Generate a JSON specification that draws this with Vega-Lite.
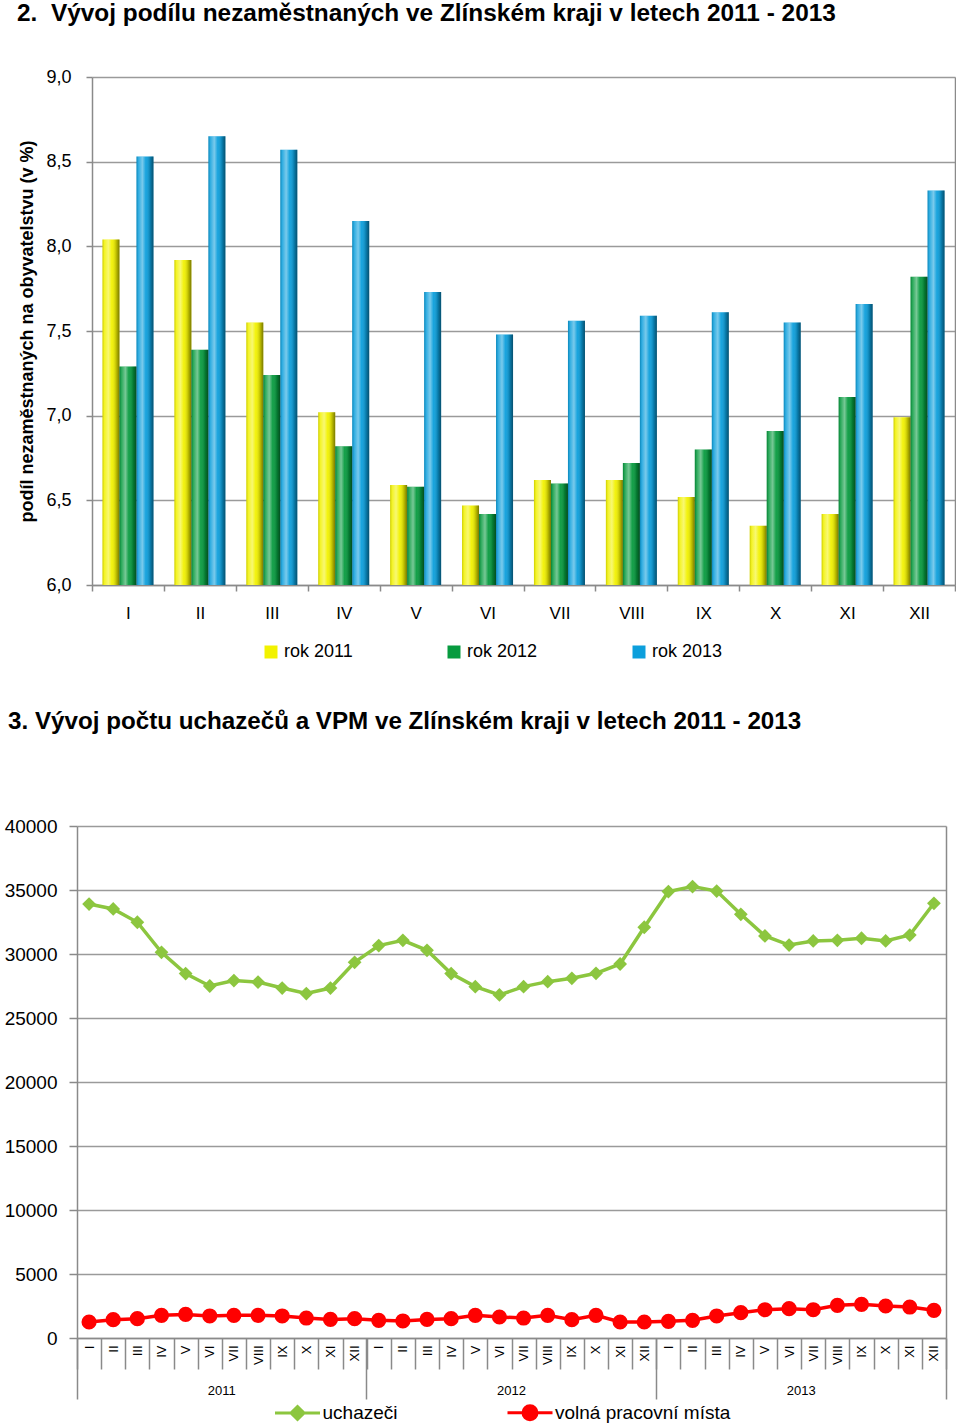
{
  "$schema": "https://vega.github.io/schema/vega-lite/v6.json",
  "padding": {"left": 4, "top": 0, "right": 0, "bottom": 0},
  "config": {
    "font": "Liberation Sans",
    "view": {"stroke": null},
    "axis": {"domainColor": "#8a8a8a", "tickColor": "#8a8a8a", "gridColor": "#9a9a9a", "labelColor": "#000000", "labelFont": "Liberation Sans", "domainWidth": 1.5, "tickWidth": 1.5, "gridWidth": 1.5}
  },
  "resolve": {"scale": {"color": "independent"}, "legend": {"color": "independent"}},
  "datasets": {
    "bars": [
      {"m": "I", "rok": "rok 2011", "v": 8.04}, {"m": "I", "rok": "rok 2012", "v": 7.29}, {"m": "I", "rok": "rok 2013", "v": 8.53},
      {"m": "II", "rok": "rok 2011", "v": 7.92}, {"m": "II", "rok": "rok 2012", "v": 7.39}, {"m": "II", "rok": "rok 2013", "v": 8.65},
      {"m": "III", "rok": "rok 2011", "v": 7.55}, {"m": "III", "rok": "rok 2012", "v": 7.24}, {"m": "III", "rok": "rok 2013", "v": 8.57},
      {"m": "IV", "rok": "rok 2011", "v": 7.02}, {"m": "IV", "rok": "rok 2012", "v": 6.82}, {"m": "IV", "rok": "rok 2013", "v": 8.15},
      {"m": "V", "rok": "rok 2011", "v": 6.59}, {"m": "V", "rok": "rok 2012", "v": 6.58}, {"m": "V", "rok": "rok 2013", "v": 7.73},
      {"m": "VI", "rok": "rok 2011", "v": 6.47}, {"m": "VI", "rok": "rok 2012", "v": 6.42}, {"m": "VI", "rok": "rok 2013", "v": 7.48},
      {"m": "VII", "rok": "rok 2011", "v": 6.62}, {"m": "VII", "rok": "rok 2012", "v": 6.60}, {"m": "VII", "rok": "rok 2013", "v": 7.56},
      {"m": "VIII", "rok": "rok 2011", "v": 6.62}, {"m": "VIII", "rok": "rok 2012", "v": 6.72}, {"m": "VIII", "rok": "rok 2013", "v": 7.59},
      {"m": "IX", "rok": "rok 2011", "v": 6.52}, {"m": "IX", "rok": "rok 2012", "v": 6.80}, {"m": "IX", "rok": "rok 2013", "v": 7.61},
      {"m": "X", "rok": "rok 2011", "v": 6.35}, {"m": "X", "rok": "rok 2012", "v": 6.91}, {"m": "X", "rok": "rok 2013", "v": 7.55},
      {"m": "XI", "rok": "rok 2011", "v": 6.42}, {"m": "XI", "rok": "rok 2012", "v": 7.11}, {"m": "XI", "rok": "rok 2013", "v": 7.66},
      {"m": "XII", "rok": "rok 2011", "v": 6.99}, {"m": "XII", "rok": "rok 2012", "v": 7.82}, {"m": "XII", "rok": "rok 2013", "v": 8.33}
    ],
    "lines": [
      {"t": "2011-I", "s": "uchazeči", "v": 33900}, {"t": "2011-II", "s": "uchazeči", "v": 33520}, {"t": "2011-III", "s": "uchazeči", "v": 32480}, {"t": "2011-IV", "s": "uchazeči", "v": 30130},
      {"t": "2011-V", "s": "uchazeči", "v": 28470}, {"t": "2011-VI", "s": "uchazeči", "v": 27500}, {"t": "2011-VII", "s": "uchazeči", "v": 27920}, {"t": "2011-VIII", "s": "uchazeči", "v": 27810},
      {"t": "2011-IX", "s": "uchazeči", "v": 27340}, {"t": "2011-X", "s": "uchazeči", "v": 26910}, {"t": "2011-XI", "s": "uchazeči", "v": 27340}, {"t": "2011-XII", "s": "uchazeči", "v": 29350},
      {"t": "2012-I", "s": "uchazeči", "v": 30660}, {"t": "2012-II", "s": "uchazeči", "v": 31070}, {"t": "2012-III", "s": "uchazeči", "v": 30290}, {"t": "2012-IV", "s": "uchazeči", "v": 28470},
      {"t": "2012-V", "s": "uchazeči", "v": 27450}, {"t": "2012-VI", "s": "uchazeči", "v": 26800}, {"t": "2012-VII", "s": "uchazeči", "v": 27450}, {"t": "2012-VIII", "s": "uchazeči", "v": 27840},
      {"t": "2012-IX", "s": "uchazeči", "v": 28100}, {"t": "2012-X", "s": "uchazeči", "v": 28490}, {"t": "2012-XI", "s": "uchazeči", "v": 29220}, {"t": "2012-XII", "s": "uchazeči", "v": 32090},
      {"t": "2013-I", "s": "uchazeči", "v": 34880}, {"t": "2013-II", "s": "uchazeči", "v": 35270}, {"t": "2013-III", "s": "uchazeči", "v": 34920}, {"t": "2013-IV", "s": "uchazeči", "v": 33100},
      {"t": "2013-V", "s": "uchazeči", "v": 31410}, {"t": "2013-VI", "s": "uchazeči", "v": 30700}, {"t": "2013-VII", "s": "uchazeči", "v": 31020}, {"t": "2013-VIII", "s": "uchazeči", "v": 31070},
      {"t": "2013-IX", "s": "uchazeči", "v": 31230}, {"t": "2013-X", "s": "uchazeči", "v": 31020}, {"t": "2013-XI", "s": "uchazeči", "v": 31480}, {"t": "2013-XII", "s": "uchazeči", "v": 33960},
      {"t": "2011-I", "s": "volná pracovní místa", "v": 1250}, {"t": "2011-II", "s": "volná pracovní místa", "v": 1430}, {"t": "2011-III", "s": "volná pracovní místa", "v": 1510}, {"t": "2011-IV", "s": "volná pracovní místa", "v": 1770},
      {"t": "2011-V", "s": "volná pracovní místa", "v": 1840}, {"t": "2011-VI", "s": "volná pracovní místa", "v": 1720}, {"t": "2011-VII", "s": "volná pracovní místa", "v": 1770}, {"t": "2011-VIII", "s": "volná pracovní místa", "v": 1770},
      {"t": "2011-IX", "s": "volná pracovní místa", "v": 1720}, {"t": "2011-X", "s": "volná pracovní místa", "v": 1560}, {"t": "2011-XI", "s": "volná pracovní místa", "v": 1450}, {"t": "2011-XII", "s": "volná pracovní místa", "v": 1510},
      {"t": "2012-I", "s": "volná pracovní místa", "v": 1380}, {"t": "2012-II", "s": "volná pracovní místa", "v": 1330}, {"t": "2012-III", "s": "volná pracovní místa", "v": 1450}, {"t": "2012-IV", "s": "volná pracovní místa", "v": 1510},
      {"t": "2012-V", "s": "volná pracovní místa", "v": 1770}, {"t": "2012-VI", "s": "volná pracovní místa", "v": 1640}, {"t": "2012-VII", "s": "volná pracovní místa", "v": 1560}, {"t": "2012-VIII", "s": "volná pracovní místa", "v": 1770},
      {"t": "2012-IX", "s": "volná pracovní místa", "v": 1430}, {"t": "2012-X", "s": "volná pracovní místa", "v": 1770}, {"t": "2012-XI", "s": "volná pracovní místa", "v": 1250}, {"t": "2012-XII", "s": "volná pracovní místa", "v": 1250},
      {"t": "2013-I", "s": "volná pracovní místa", "v": 1300}, {"t": "2013-II", "s": "volná pracovní místa", "v": 1380}, {"t": "2013-III", "s": "volná pracovní místa", "v": 1720}, {"t": "2013-IV", "s": "volná pracovní místa", "v": 1980},
      {"t": "2013-V", "s": "volná pracovní místa", "v": 2210}, {"t": "2013-VI", "s": "volná pracovní místa", "v": 2290}, {"t": "2013-VII", "s": "volná pracovní místa", "v": 2210}, {"t": "2013-VIII", "s": "volná pracovní místa", "v": 2550},
      {"t": "2013-IX", "s": "volná pracovní místa", "v": 2630}, {"t": "2013-X", "s": "volná pracovní místa", "v": 2500}, {"t": "2013-XI", "s": "volná pracovní místa", "v": 2420}, {"t": "2013-XII", "s": "volná pracovní místa", "v": 2160}
    ]
  },
  "columns": 1,
  "spacing": 48,
  "concat": [
    {
      "title": {"text": "2. \u00a0Vývoj podílu nezaměstnaných ve Zlínském kraji v letech 2011 - 2013", "anchor": "start", "frame": "group", "dx": -60, "font": "Liberation Sans Narrow, Liberation Sans", "fontSize": 24.4, "fontWeight": "bold", "color": "#000000", "offset": 42},
      "width": 878,
      "height": 508,
      "data": {"name": "bars"},
      "encoding": {
        "x": {"field": "m", "type": "nominal", "scale": {"type": "band", "domain": ["I", "II", "III", "IV", "V", "VI", "VII", "VIII", "IX", "X", "XI", "XII"], "range": [15, 878], "paddingInner": 0, "paddingOuter": 0},
          "axis": {"title": null, "orient": "bottom", "tickBand": "extent", "tickSize": 6, "labelFontSize": 17, "labelPadding": 14, "labelAngle": 0, "grid": false, "domain": true}},
        "xOffset": {"field": "rok", "type": "nominal", "scale": {"domain": ["rok 2011", "rok 2012", "rok 2013"], "paddingOuter": 0.615, "paddingInner": 0}},
        "y2": {"datum": 6}
      },
      "layer": [
        {
          "mark": {"type": "bar"},
          "encoding": {
            "y": {"field": "v", "type": "quantitative", "scale": {"domain": [6, 9], "zero": false, "nice": false},
              "axis": {"orient": "left", "title": "podíl nezaměstnaných na obyvatelstvu (v %)", "titleFontSize": 18, "titleFontWeight": "bold", "titleColor": "#000000", "titleX": -65, "titleY": 254, "titleAngle": 270, "titleAlign": "center", "titleBaseline": "middle", "offset": -15, "values": [6, 6.5, 7, 7.5, 8, 8.5, 9], "labelExpr": "replace(format(datum.value, '.1f'), '.', ',')", "labelFontSize": 18, "labelPadding": 15, "tickSize": 6, "grid": true}},
            "color": {"field": "rok", "type": "nominal", "scale": {"domain": ["rok 2011", "rok 2012", "rok 2013"], "range": ["#f2f200", "#079b3f", "#0c9fdc"]},
              "legend": {"orient": "none", "legendX": 185, "legendY": 566, "direction": "horizontal", "columns": 3, "title": null, "padding": 0, "symbolType": "square", "symbolSize": 169, "symbolStrokeWidth": 0, "labelFontSize": 18, "labelOffset": 4, "columnPadding": 92, "labelColor": "#000000"}}
          }
        },
        {
          "mark": {"type": "bar", "color": {"gradient": "linear", "x1": 0, "y1": 0, "x2": 1, "y2": 0, "stops": [
            {"offset": 0, "color": "rgba(0,0,0,0.15)"},
            {"offset": 0.12, "color": "rgba(255,255,255,0.15)"},
            {"offset": 0.35, "color": "rgba(255,255,255,0.45)"},
            {"offset": 0.55, "color": "rgba(255,255,255,0.05)"},
            {"offset": 0.8, "color": "rgba(0,0,0,0.2)"},
            {"offset": 1, "color": "rgba(0,0,0,0.5)"}
          ]}},
          "encoding": {
            "y": {"field": "v", "type": "quantitative", "scale": {"domain": [6, 9], "zero": false, "nice": false},
              "axis": {"orient": "right", "labels": false, "ticks": false, "grid": false, "domain": true, "title": null}}
          }
        }
      ],
      "resolve": {"axis": {"y": "independent"}}
    },
    {
      "title": {"text": "3. Vývoj počtu uchazečů a VPM ve Zlínském kraji v letech 2011 - 2013", "anchor": "start", "frame": "group", "dx": -69, "fontSize": 24.2, "fontWeight": "bold", "color": "#000000", "offset": 83},
      "width": 869,
      "height": 512,
      "data": {"name": "lines"},
      "layer": [
        {
          "transform": [{"filter": "datum.s === 'uchazeči'"}],
          "mark": {"type": "line", "strokeWidth": 3.5},
          "encoding": {
            "x": {"field": "t", "type": "nominal", "scale": {"type": "band", "paddingInner": 0, "paddingOuter": 0, "domain": ["2011-I","2011-II","2011-III","2011-IV","2011-V","2011-VI","2011-VII","2011-VIII","2011-IX","2011-X","2011-XI","2011-XII","2012-I","2012-II","2012-III","2012-IV","2012-V","2012-VI","2012-VII","2012-VIII","2012-IX","2012-X","2012-XI","2012-XII","2013-I","2013-II","2013-III","2013-IV","2013-V","2013-VI","2013-VII","2013-VIII","2013-IX","2013-X","2013-XI","2013-XII"]},
              "axis": {"orient": "bottom", "title": null, "tickBand": "extent", "tickSize": 31, "labelExpr": "split(datum.value, '-')[1]", "labelAngle": 270, "labelFontSize": 13, "labelPadding": -24, "grid": false, "domain": true}},
            "y": {"field": "v", "type": "quantitative", "scale": {"domain": [0, 40000], "nice": false},
              "axis": {"orient": "left", "title": null, "values": [0, 5000, 10000, 15000, 20000, 25000, 30000, 35000, 40000], "format": "d", "labelFontSize": 19, "labelPadding": 12, "tickSize": 8, "grid": true}},
            "color": {"field": "s", "type": "nominal", "scale": {"domain": ["uchazeči", "volná pracovní místa"], "range": ["#8cc63f", "#ff0000"]},
              "legend": {"orient": "none", "legendX": 211, "legendY": 577, "direction": "horizontal", "columns": 2, "title": null, "padding": 0, "symbolSize": 100, "labelFontSize": 19, "labelOffset": 15.5, "labelLimit": 400, "columnPadding": 103.5, "labelColor": "#000000",
                "encode": {"symbols": {"update": {
                  "shape": {"signal": "datum.value === 'uchazeči' ? 'M-4.5,0H4.5M0,-1.3L1.3,0L0,1.3L-1.3,0Z' : 'M-4.5,0H4.5M1.4,0A1.4,1.4,0,1,1,-1.4,0A1.4,1.4,0,1,1,1.4,0Z'"},
                  "fill": {"signal": "datum.value === 'uchazeči' ? '#8cc63f' : '#ff0000'"},
                  "stroke": {"signal": "datum.value === 'uchazeči' ? '#8cc63f' : '#ff0000'"},
                  "strokeWidth": {"value": 3},
                  "opacity": {"value": 1},
                  "fillOpacity": {"value": 1}
                }}}}}
          }
        },
        {
          "transform": [{"filter": "datum.s === 'volná pracovní místa'"}],
          "mark": {"type": "line", "strokeWidth": 3.5},
          "encoding": {
            "x": {"field": "t", "type": "nominal", "scale": {"type": "band", "paddingInner": 0, "paddingOuter": 0},
              "axis": {"orient": "bottom", "title": null, "values": ["2011-VII", "2012-VII", "2013-VII"], "bandPosition": 0, "ticks": false, "domain": false, "grid": false, "labelExpr": "split(datum.value, '-')[0]", "labelAngle": 0, "labelFontSize": 13, "labelPadding": 46, "labelOffset": -12.07}},
            "y": {"field": "v", "type": "quantitative", "scale": {"domain": [0, 40000], "nice": false},
              "axis": {"orient": "right", "labels": false, "ticks": false, "grid": false, "domain": true, "title": null}},
            "color": {"field": "s", "type": "nominal", "scale": {"domain": ["uchazeči", "volná pracovní místa"], "range": ["#8cc63f", "#ff0000"]}}
          }
        },
        {
          "transform": [{"filter": "datum.s === 'uchazeči'"}],
          "mark": {"type": "point", "shape": "diamond", "filled": true, "size": 190, "opacity": 1},
          "encoding": {
            "x": {"field": "t", "type": "nominal", "scale": {"type": "band", "paddingInner": 0, "paddingOuter": 0},
              "axis": {"orient": "bottom", "title": null, "values": ["2011-I", "2012-I", "2013-I"], "bandPosition": 0, "tickSize": 61, "labels": false, "domain": false, "grid": false}},
            "y": {"field": "v", "type": "quantitative", "scale": {"domain": [0, 40000], "nice": false}, "axis": null},
            "color": {"field": "s", "type": "nominal", "scale": {"domain": ["uchazeči", "volná pracovní místa"], "range": ["#8cc63f", "#ff0000"]}}
          }
        },
        {
          "transform": [{"filter": "datum.s === 'volná pracovní místa'"}],
          "mark": {"type": "point", "shape": "circle", "filled": true, "size": 230, "opacity": 1},
          "encoding": {
            "x": {"field": "t", "type": "nominal", "scale": {"type": "band", "paddingInner": 0, "paddingOuter": 0},
              "axis": {"orient": "bottom", "title": null, "values": ["2013-XII"], "bandPosition": 1, "tickSize": 61, "labels": false, "domain": false, "grid": false}},
            "y": {"field": "v", "type": "quantitative", "scale": {"domain": [0, 40000], "nice": false}, "axis": null},
            "color": {"field": "s", "type": "nominal", "scale": {"domain": ["uchazeči", "volná pracovní místa"], "range": ["#8cc63f", "#ff0000"]}}
          }
        }
      ],
      "resolve": {"axis": {"x": "independent", "y": "independent"}}
    }
  ]
}
